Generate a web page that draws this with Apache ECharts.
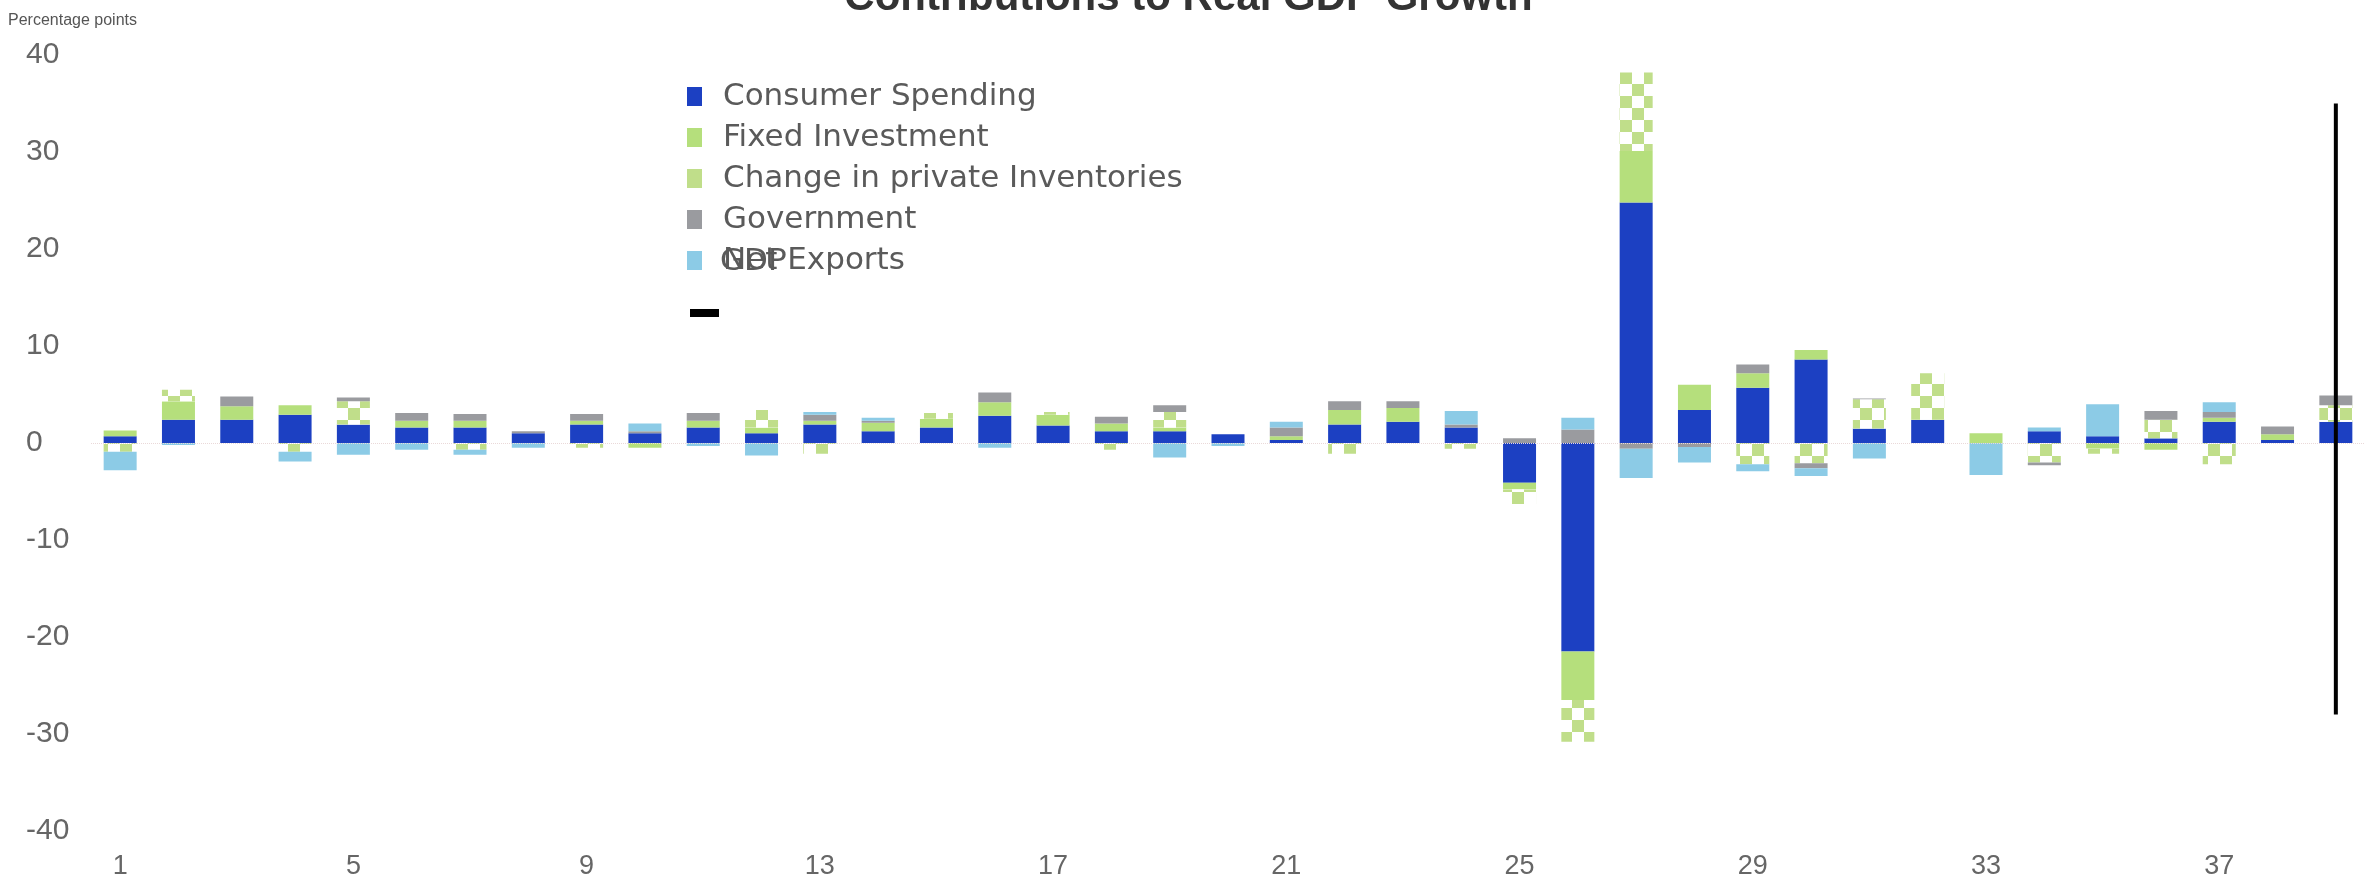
<!DOCTYPE html>
<html>
<head>
<meta charset="utf-8">
<script src="https://cdn.jsdelivr.net/npm/echarts@6/dist/echarts.min.js"></script>
<style>
  html, body { margin: 0; padding: 0; background: #ffffff; }
  #chart { width: 2377px; height: 886px; }
</style>
</head>
<body>
<div id="chart"></div>
<script>
// Quarters 1..39
const quarters = Array.from({ length: 39 }, (_, i) => String(i + 1));

// Contributions to real GDP growth, percentage points
const consumerSpending = [0.7, 2.4, 2.4, 2.9, 1.9, 1.6, 1.6, 1.0, 1.9, 1.0,
  1.6, 1.0, 1.9, 1.2, 1.6, 2.8, 1.8, 1.2, 1.2, 0.9,
  0.3, 1.9, 2.2, 1.6, -4.1, -21.5, 24.8, 3.4, 5.7, 8.6,
  1.5, 2.4, 0.0, 1.2, 0.7, 0.5, 2.2, 0.3, 2.2];
const fixedInvestment = [0.6, 1.9, 1.4, 1.0, 0.0, 0.7, 0.7, 0.0, 0.4, -0.5,
  0.7, 0.6, 0.4, 0.9, 0.9, 1.4, 1.1, 0.8, 0.4, 0.0,
  0.4, 1.5, 1.4, 0.0, -0.7, -5.0, 5.3, 2.6, 1.5, 1.0,
  0.0, 0.0, 1.0, 0.0, -0.6, -0.7, 0.4, 0.6, 0.0];
const inventories = [-0.9, 1.2, 0.0, -0.9, 2.4, 0.0, -0.7, 0.0, -0.5, 0.0,
  0.0, 1.8, -1.1, 0.0, 0.6, 0.0, 0.3, -0.7, 1.6, 0.0,
  0.0, -1.1, 0.0, -0.6, -1.5, -4.3, 8.1, 0.0, -2.2, -2.1,
  3.0, 4.8, 0.0, -2.0, -0.5, 1.9, -2.2, 0.0, 1.7];
const government = [0.0, 0.0, 1.0, 0.0, 0.4, 0.8, 0.7, 0.2, 0.7, 0.2,
  0.8, 0.0, 0.6, 0.2, 0.0, 1.0, 0.0, 0.7, 0.7, 0.0,
  0.9, 0.9, 0.7, 0.3, 0.5, 1.4, -0.6, -0.4, 0.9, -0.5,
  0.1, 0.0, 0.0, -0.3, 0.0, 0.9, 0.6, 0.8, 1.0];
const netExports = [-1.9, -0.2, 0.0, -1.0, -1.2, -0.7, -0.5, -0.5, 0.0, 0.8,
  -0.3, -1.3, 0.3, 0.3, 0.0, -0.5, 0.0, 0.0, -1.5, -0.3,
  0.6, 0.0, 0.0, 1.4, 0.0, 1.2, -3.0, -1.6, -0.7, -0.8,
  -1.6, 0.0, -3.3, 0.4, 3.3, 0.0, 1.0, 0.0, 0.0];
// GDP marker: vertical line at the last quarter
const gdpQuarter = '39';
const gdpRange = [35, -28];

const yTicks = { min: -40, max: 40, interval: 10 };

const FONT = 'Liberation Sans, Arial, sans-serif';
const LEGEND_FONT = 'DejaVu Sans, sans-serif';
const colors = {
  consumer: '#1c40c2',
  fixed: '#b5df7c',
  inventories: '#c0de8a',
  government: '#9a9b9f',
  net: '#8ccbe6',
  gdp: '#000000'
};

const checker = {
  symbol: 'rect',
  symbolSize: 1,
  color: colors.inventories,
  backgroundColor: '#ffffff',
  dashArrayX: [[12, 12], [0, 12, 12, 0]],
  dashArrayY: [12, 0]
};

function barSeries(name, data, itemStyle) {
  return {
    name: name,
    type: 'bar',
    stack: 'total',
    barWidth: 33,
    data: data,
    itemStyle: itemStyle,
    emphasis: { disabled: true }
  };
}

const chart = echarts.init(document.getElementById('chart'), null, { renderer: 'canvas' });

const series = [
  Object.assign(barSeries('Consumer Spending', consumerSpending, { color: colors.consumer }), {
    markLine: {
      silent: true,
      symbol: 'none',
      label: { show: false },
      lineStyle: { color: '#ead9d9', type: 'dotted', width: 1 },
      data: [{ yAxis: 0 }]
    }
  }),
  barSeries('Fixed Investment', fixedInvestment, { color: colors.fixed }),
  barSeries('Change in private Inventories', inventories, { color: '#ffffff', decal: checker }),
  barSeries('Government', government, { color: colors.government }),
  barSeries('Net Exports', netExports, { color: colors.net }),
  {
    name: 'GDP',
    type: 'line',
    data: gdpRange.map(v => [gdpQuarter, v]),
    symbol: 'none',
    lineStyle: { color: colors.gdp, width: 4 },
    itemStyle: { color: colors.gdp },
    z: 5
  }
];

chart.setOption({
  animation: false,
  backgroundColor: '#ffffff',
  title: {
    text: 'Contributions to Real GDP Growth',
    left: 'center',
    top: -28,
    textStyle: { fontFamily: FONT, fontSize: 42, fontWeight: 'bold', color: '#333333' }
  },
  legend: [
    {
      orient: 'vertical',
      left: 682,
      top: 76,
      itemWidth: 15,
      itemHeight: 19,
      itemGap: 10,
      icon: 'rect',
      selectedMode: false,
      textStyle: { fontFamily: LEGEND_FONT, fontSize: 31, color: '#5a5a5a', padding: [0, 0, 0, 16] },
      data: [
        { name: 'Consumer Spending' },
        { name: 'Fixed Investment' },
        { name: 'Change in private Inventories', itemStyle: { color: colors.inventories, decal: 'none' } },
        { name: 'Government' },
        { name: 'Net Exports' }
      ]
    },
    {
      orient: 'vertical',
      left: 685,
      top: 304,
      itemWidth: 29,
      itemHeight: 8,
      icon: 'rect',
      selectedMode: false,
      formatter: () => '',
      data: [{ name: 'GDP' }]
    }
  ],
  graphic: [
    {
      type: 'text',
      left: 8,
      top: 13,
      style: { text: 'Percentage points', fontFamily: FONT, fontSize: 16, fill: '#555555' }
    },
    {
      type: 'text',
      x: 720,
      y: 262,
      style: {
        text: 'GDP',
        fontFamily: LEGEND_FONT,
        fontSize: 31,
        fill: '#5a5a5a',
        verticalAlign: 'middle'
      }
    }
  ],
  grid: { left: 91, right: 12, top: 55, bottom: 55, containLabel: false },
  xAxis: {
    type: 'category',
    data: quarters,
    axisLine: { show: false },
    axisTick: { show: false },
    splitLine: { show: false },
    axisLabel: {
      interval: 3,
      margin: 22,
      fontFamily: FONT,
      fontSize: 27,
      color: '#666666'
    }
  },
  yAxis: {
    type: 'value',
    min: yTicks.min,
    max: yTicks.max,
    interval: yTicks.interval,
    axisLine: { show: false },
    axisTick: { show: false },
    splitLine: { show: false },
    axisLabel: {
      align: 'left',
      margin: 65,
      fontFamily: FONT,
      fontSize: 30,
      color: '#666666'
    }
  },
  series: series
});
</script>
</body>
</html>
